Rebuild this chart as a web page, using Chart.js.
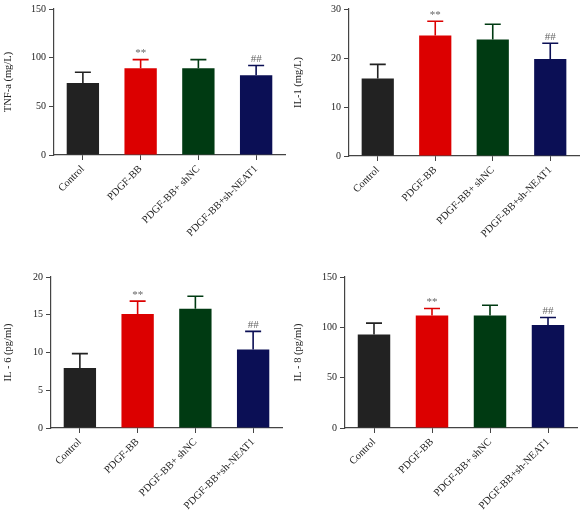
<!DOCTYPE html>
<html>
<head>
<meta charset="utf-8">
<script src="https://cdn.jsdelivr.net/npm/chart.js@4/dist/chart.umd.min.js"></script>
<style>
    body { margin: 0; background: #fff; }
    #wrap { position: relative; width: 580px; height: 513px; }
    .panel { position: absolute; width: 290px; height: 256px; }
</style>
</head>
<body>
<div id="wrap">
    <div class="panel" style="left:0;top:0"><canvas id="c1"></canvas></div>
    <div class="panel" style="left:290px;top:0"><canvas id="c2"></canvas></div>
    <div class="panel" style="left:0;top:256px;height:257px"><canvas id="c3"></canvas></div>
    <div class="panel" style="left:290px;top:256px;height:257px"><canvas id="c4"></canvas></div>
</div>
<script>
// ===== data =====
const groups = ['Control', 'PDGF-BB', 'PDGF-BB+ shNC', 'PDGF-BB+sh-NEAT1'];
const barColors = ['#222222', '#dc0000', '#003a12', '#0b0f55'];
const marks = ['', '**', '', '##'];

const tnfMean = [74, 89, 89, 82];
const tnfSd = [11, 9, 9, 10];

const il1Mean = [15.8, 24.6, 23.8, 19.8];
const il1Sd = [2.9, 2.9, 3.1, 3.2];

const il6Mean = [7.95, 15.1, 15.8, 10.4];
const il6Sd = [1.9, 1.7, 1.65, 2.4];

const il8Mean = [93, 111.8, 111.8, 102.2];
const il8Sd = [11.2, 6.9, 10.2, 7.6];

const serif = "'Liberation Serif', 'DejaVu Serif', serif";
const axisColor = '#444';

// error bars + significance marks
const errorBars = {
    id: 'errorBars',
    afterDatasetsDraw(chart, args, opts) {
        const ctx = chart.ctx;
        const y = chart.scales.y;
        const meta = chart.getDatasetMeta(0);
        const ds = chart.data.datasets[0];
        meta.data.forEach((bar, i) => {
            const top = y.getPixelForValue(ds.data[i] + opts.sd[i]);
            ctx.save();
            ctx.strokeStyle = barColors[i];
            ctx.lineWidth = 1.6;
            ctx.beginPath();
            ctx.moveTo(bar.x, bar.y);
            ctx.lineTo(bar.x, top);
            ctx.moveTo(bar.x - 8, top);
            ctx.lineTo(bar.x + 8, top);
            ctx.stroke();
            if (marks[i]) {
                ctx.fillStyle = '#666';
                ctx.font = '11px ' + serif;
                ctx.textAlign = 'center';
                ctx.textBaseline = 'bottom';
                ctx.fillText(marks[i], bar.x, top - 1);
            }
            ctx.restore();
        });
    }
};

function makePanel(id, title, mean, sd, max, step, box) {
    new Chart(document.getElementById(id), {
        type: 'bar',
        data: {
            labels: groups,
            datasets: [{
                data: mean,
                backgroundColor: barColors,
                barPercentage: 0.56,
                categoryPercentage: 1
            }]
        },
        options: {
            responsive: true,
            maintainAspectRatio: false,
            animation: false,
            layout: { autoPadding: false, padding: { top: box.top, right: box.right, left: 0, bottom: 0 } },
            plugins: {
                legend: { display: false },
                tooltip: { enabled: false },
                errorBars: { sd }
            },
            scales: {
                x: {
                    grid: { offset: false, drawOnChartArea: false, drawTicks: true, tickLength: 5, color: axisColor },
                    border: { color: axisColor, width: 1.2 },
                    ticks: {
                        color: '#222',
                        font: { family: serif, size: 10.5 },
                        minRotation: 45,
                        maxRotation: 45,
                        padding: 3
                    },
                    afterFit(s) { s.height = box.xh; }
                },
                y: {
                    min: 0,
                    max: max,
                    grid: { drawOnChartArea: false, drawTicks: true, tickLength: 5, color: axisColor },
                    border: { color: axisColor, width: 1.2 },
                    ticks: {
                        stepSize: step,
                        color: '#222',
                        font: { family: serif, size: 10 },
                        padding: 3
                    },
                    title: {
                        display: true,
                        text: title,
                        color: '#222',
                        font: { family: serif, size: 10.5 },
                        padding: 2
                    },
                    afterFit(s) { s.width = box.yw; }
                }
            }
        },
        plugins: [errorBars]
    });
}

makePanel('c1', 'TNF-a (mg/L)', tnfMean, tnfSd, 150, 50, { top: 3, right: 5, yw: 54, xh: 101 });
makePanel('c2', 'IL-1 (mg/L)', il1Mean, il1Sd, 30, 10, { top: 4, right: 1, yw: 59, xh: 100 });
makePanel('c3', 'IL - 6 (pg/ml)', il6Mean, il6Sd, 20, 5, { top: 21, right: 8, yw: 51, xh: 85 });
makePanel('c4', 'IL - 8 (pg/ml)', il8Mean, il8Sd, 150, 50, { top: 21, right: 3, yw: 55, xh: 85 });
</script>
</body>
</html>
